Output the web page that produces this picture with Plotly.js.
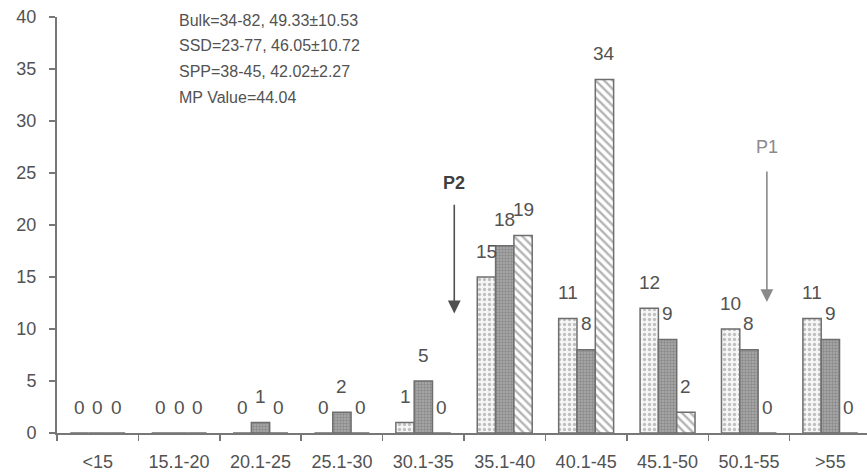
<!DOCTYPE html>
<html>
<head>
<meta charset="utf-8">
<script src="https://cdn.plot.ly/plotly-3.0.1.min.js"></script>
<style>
  html, body { margin: 0; padding: 0; background: #fff; }
  #chart { width: 867px; height: 474px; }
</style>
</head>
<body>
<div id="chart"></div>
<script>
// Size classes (mm) along the x axis
const categories = ['<15', '15.1-20', '20.1-25', '25.1-30', '30.1-35',
                    '35.1-40', '40.1-45', '45.1-50', '50.1-55', '>55'];

// Counts per class for each sample
const bulk = [0, 0, 0, 0, 1, 15, 11, 12, 10, 11];
const ssd  = [0, 0, 1, 2, 5, 18, 8, 9, 8, 9];
const spp  = [0, 0, 0, 0, 0, 19, 34, 2, 0, 0];

const seriesNames = ['Bulk', 'SSD', 'SPP'];

// Summary lines shown in the upper-left corner
const statLines = [
  'Bulk=34-82, 49.33±10.53',
  'SSD=23-77, 46.05±10.72',
  'SPP=38-45, 42.02±2.27',
  'MP Value=44.04'
];

// Peak markers: category position, arrow tip and tail heights (count units)
const peakLabels = ['P2', 'P1'];
const peakX = [4.38, 8.22];
const peakTip = [11.5, 12.6];
const peakTail = [22.1, 25.3];

const bargap = 0.325;
const textColor = '#525252';
const axisColor = '#777';
const font = 'Liberation Sans, Arial, sans-serif';

const styles = [
  { color: '#f6f6f6', pattern: { shape: '.', fgcolor: '#8a8a8a', size: 5, solidity: 0.35, fillmode: 'overlay' } },
  { color: '#a4a4a4', pattern: { shape: '+', fgcolor: '#6a6a6a', size: 3, solidity: 0.35, fillmode: 'overlay' } },
  { color: '#ffffff', pattern: { shape: '\\', fgcolor: '#6a6a6a', size: 6, solidity: 0.4, fillmode: 'overlay' } }
];

const allSeries = [bulk, ssd, spp];

const traces = allSeries.map((vals, i) => ({
  type: 'bar',
  name: seriesNames[i],
  x: categories,
  y: vals,
  marker: {
    color: styles[i].color,
    pattern: styles[i].pattern,
    line: { color: '#6e6e6e', width: 1.5 }
  },
  hoverinfo: 'x+y+name'
}));

// Value labels above each bar, placed at the bar's group offset
const barW = (1 - bargap) / allSeries.length;
const annotations = [];
allSeries.forEach((vals, i) => {
  vals.forEach((v, j) => {
    annotations.push({
      x: j + (i - (allSeries.length - 1) / 2) * barW,
      y: v,
      xref: 'x', yref: 'y',
      text: String(v),
      showarrow: false,
      yshift: 26,
      font: { family: font, size: 19, color: textColor }
    });
  });
});

statLines.forEach((t, k) => {
  annotations.push({
    x: 0.148, y: 1, xref: 'paper', yref: 'paper',
    xanchor: 'left', yanchor: 'middle',
    yshift: -3 - 25.7 * k,
    text: t, showarrow: false,
    font: { family: font, size: 16, color: textColor }
  });
});

const peakColors = ['#505050', '#8a8a8a'];
peakLabels.forEach((lab, k) => {
  annotations.push({
    x: peakX[k], y: peakTip[k], xref: 'x', yref: 'y',
    ax: peakX[k], ay: peakTail[k], axref: 'x', ayref: 'y',
    text: '', showarrow: true,
    arrowhead: 2, arrowsize: 1.6, arrowwidth: 1.6,
    arrowcolor: peakColors[k]
  });
  annotations.push({
    x: peakX[k], y: peakTail[k], xref: 'x', yref: 'y',
    yanchor: 'bottom', yshift: k === 0 ? 8 : 11,
    text: k === 0 ? '<b>' + lab + '</b>' : lab,
    showarrow: false,
    font: { family: font, size: 18, color: k === 0 ? '#404040' : '#8a8a8a' }
  });
});

const layout = {
  width: 867, height: 474,
  margin: { l: 57, r: 0, t: 17, b: 41 },
  paper_bgcolor: '#fff', plot_bgcolor: '#fff',
  barmode: 'group', bargap: bargap, bargroupgap: 0,
  showlegend: false,
  font: { family: font, color: textColor },
  xaxis: {
    type: 'category',
    range: [-0.5, 9.45],
    showline: true, linecolor: axisColor, linewidth: 2,
    ticks: 'outside', tickson: 'boundaries', ticklen: 6, tickcolor: axisColor, tickwidth: 1.5,
    tickfont: { family: font, size: 18, color: textColor },
    ticklabelstandoff: 11,
    showgrid: false, zeroline: false
  },
  yaxis: {
    range: [0, 40], dtick: 5,
    showline: true, linecolor: axisColor, linewidth: 2,
    ticks: 'outside', ticklen: 6, tickcolor: axisColor, tickwidth: 1.5,
    tickfont: { family: font, size: 18, color: textColor },
    ticklabelstandoff: 9,
    showgrid: false, zeroline: false
  },
  annotations: annotations
};

Plotly.newPlot('chart', traces, layout, { displayModeBar: false, staticPlot: true });
</script>
</body>
</html>
